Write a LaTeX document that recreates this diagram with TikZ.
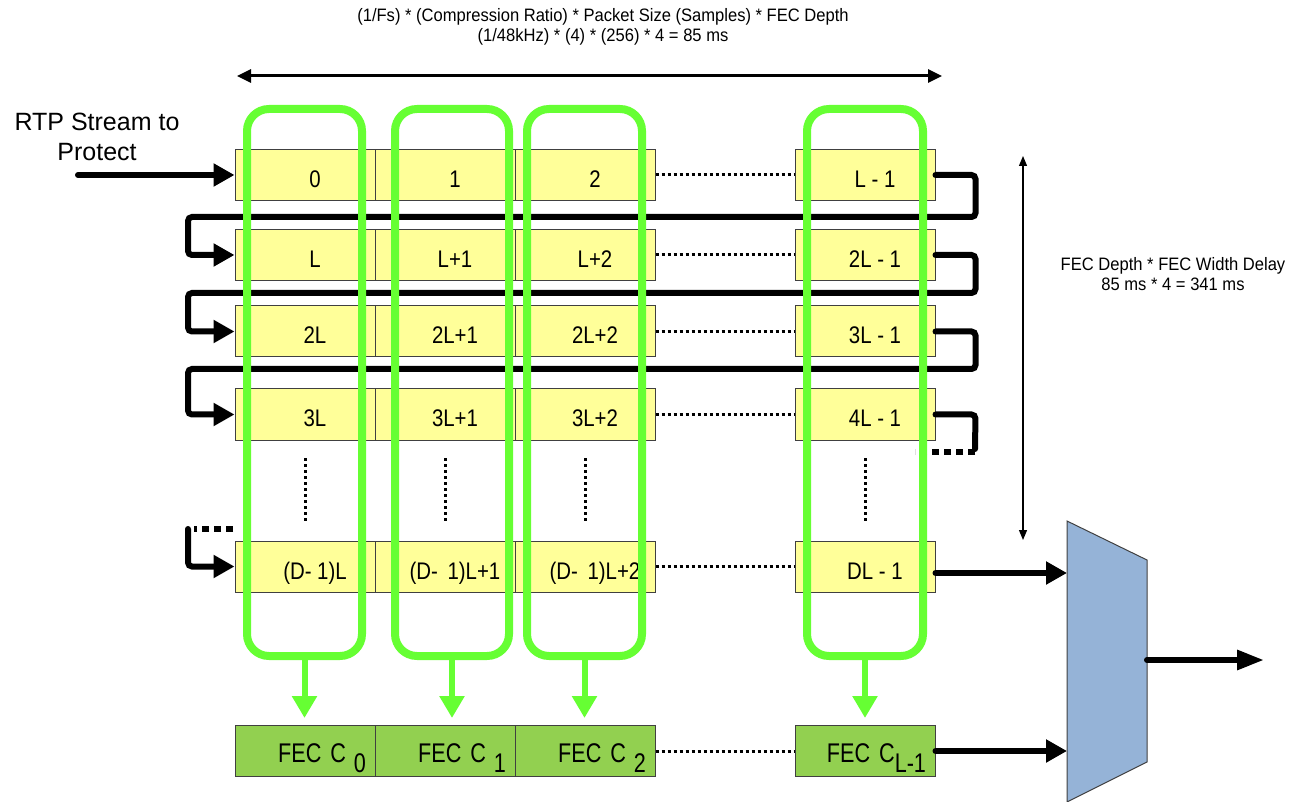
\documentclass[tikz,border=0pt]{standalone}
\usepackage{fontspec}
\setmainfont{Liberation Sans}
\newfontfamily\boxsans[FakeStretch=0.85]{Liberation Sans}
\newfontfamily\fecsans[FakeStretch=0.8]{Liberation Sans}
\newfontfamily\notesans[FakeStretch=0.92]{Liberation Sans}
\usetikzlibrary{arrows.meta}
\definecolor{pktyellow}{HTML}{FFFF99}
\definecolor{grpgreen}{HTML}{66FF33}
\definecolor{fecgreen}{HTML}{92D050}
\definecolor{muxblue}{HTML}{95B3D7}
\definecolor{edgegray}{HTML}{404040}
\begin{document}
\begin{tikzpicture}[x=1pt, y=-1pt,
  pkt/.style={draw=edgegray, line width=1pt, fill=pktyellow, minimum width=140pt, minimum height=51pt, inner sep=0pt,
    font={\boxsans\fontsize{24}{28}\selectfont}, text height=25pt, text depth=0pt, execute at begin node=\hspace*{20pt}},
  fec/.style={draw=edgegray, line width=1pt, fill=fecgreen, minimum width=140pt, minimum height=51pt, inner sep=0pt,
    font={\fecsans\fontsize{27}{32}\selectfont}, text width=122pt, align=right, text height=22pt, text depth=0pt},
  grp/.style={draw=grpgreen, line width=8pt, rounded corners=22pt, inner sep=0pt, minimum height=547pt},
  loopline/.style={line width=6pt, rounded corners=4pt, line cap=round},
  bigarrow/.style={line width=6pt, line cap=round, -{Triangle[length=21pt,width=22pt]}},
  grparrow/.style={draw=grpgreen, line width=6pt, -{Triangle[length=22pt,width=24pt]}, shorten >=7pt},
  thickdots/.style={line width=6pt, dash pattern=on 7pt off 5pt},
  thindots/.style={line width=3pt, dash pattern=on 3pt off 3pt}]
\useasboundingbox (0,0) rectangle (1294,802);

% packet rows
\node[pkt] (r1a) at (305,175) {0};
\node[pkt] (r1b) at (445,175) {1};
\node[pkt] (r1c) at (585,175) {2};
\node[pkt] (r1d) at (865,175) {L - 1};
\node[pkt] (r2a) at (305,255) {L};
\node[pkt] (r2b) at (445,255) {L+1};
\node[pkt] (r2c) at (585,255) {L+2};
\node[pkt] (r2d) at (865,255) {2L - 1};
\node[pkt] (r3a) at (305,331.5) {2L};
\node[pkt] (r3b) at (445,331.5) {2L+1};
\node[pkt] (r3c) at (585,331.5) {2L+2};
\node[pkt] (r3d) at (865,331.5) {3L - 1};
\node[pkt] (r4a) at (305,414.5) {3L};
\node[pkt] (r4b) at (445,414.5) {3L+1};
\node[pkt] (r4c) at (585,414.5) {3L+2};
\node[pkt] (r4d) at (865,414.5) {4L - 1};
\node[pkt] (r5a) at (305,566.5) {(D- 1)L};
\node[pkt] (r5b) at (445,566.5) {(D- \,1)L+1};
\node[pkt] (r5c) at (585,566.5) {(D- \,1)L+2};
\node[pkt] (r5d) at (865,566.5) {DL - 1};

% parity packets
\node[fec] (feca) at (305,751) {FEC C\hspace{8pt}\raisebox{-10pt}{0}};
\node[fec] (fecb) at (445,751) {FEC C\hspace{8pt}\raisebox{-10pt}{1}};
\node[fec] (fecc) at (585,751) {FEC C\hspace{8pt}\raisebox{-10pt}{2}};
\node[fec] (fecd) at (865,751) {FEC C\raisebox{-10pt}{L-1}};

% gaps
\draw[thindots] (r1c.east) -- (r1d.west);
\draw[thindots] (r2c.east) -- (r2d.west);
\draw[thindots] (r3c.east) -- (r3d.west);
\draw[thindots] (r4c.east) -- (r4d.west);
\draw[thindots] (r5c.east) -- (r5d.west);
\draw[thindots] (fecc.east) -- (fecd.west);
\draw[thindots] (305,458) -- (305,521);
\draw[thindots] (445,458) -- (445,521);
\draw[thindots] (585,458) -- (585,521);
\draw[thindots] (865,458) -- (865,521);

% row order
\node[font=\fontsize{25}{30}\selectfont, align=center] (input) at (97,137) {RTP Stream to\\Protect};
\coordinate (src) at (78,175);
\draw[bigarrow] (src) -- (r1a.west);
\draw[loopline, -{Triangle[length=21pt,width=22pt]}] (r1d.east) -- ++(40,0) |- (188,217) |- (r2a.west);
\draw[loopline, -{Triangle[length=21pt,width=22pt]}] (r2d.east) -- ++(40,0) |- (188,293) |- (r3a.west);
\draw[loopline, -{Triangle[length=21pt,width=22pt]}] (r3d.east) -- ++(40,0) |- (188,369) |- (r4a.west);
\draw[loopline] (r4d.east) -- ++(40,0) -- (975,449);
\draw[thickdots] (975,452) -- (915,452);
\draw[thickdots] (233,529) -- (194,529);
\draw[loopline, -{Triangle[length=21pt,width=22pt]}] (188,529) |- (r5a.west);

% parity groups
\node[grp, minimum width=115pt] (grpa) at (304.5,382.5) {};
\node[grp, minimum width=114pt] (grpb) at (452,382.5) {};
\node[grp, minimum width=115pt] (grpc) at (584.5,382.5) {};
\node[grp, minimum width=116pt] (grpd) at (865,382.5) {};
\draw[grparrow] (grpa.south) -- (grpa.south |- feca.north);
\draw[grparrow] (grpb.south) -- (grpb.south |- fecb.north);
\draw[grparrow] (grpc.south) -- (grpc.south |- fecc.north);
\draw[grparrow] (grpd.south) -- (grpd.south |- fecd.north);

% span and delay
\coordinate (spanl) at (237,76);
\coordinate (spanr) at (942,76);
\draw[line width=3pt, {Triangle[length=14pt,width=13pt]}-{Triangle[length=14pt,width=13pt]}] (spanl) -- (spanr);
\node[font={\notesans\fontsize{18}{20}\selectfont}, align=center] (spantext) at (603,27) {(1/Fs) * (Compression Ratio) * Packet Size (Samples) * FEC Depth\\(1/48kHz) * (4) * (256) * 4 = 85 ms};
\coordinate (delayt) at (1023,156);
\coordinate (delayb) at (1023,540);
\draw[line width=1.2pt, {Triangle[length=10pt,width=8pt]}-{Triangle[length=10pt,width=8pt]}] (delayt) -- (delayb);
\node[font={\notesans\fontsize{18}{20}\selectfont}, align=center] (delaytext) at (1173,274) {FEC Depth * FEC Width Delay\\85 ms * 4 = 341 ms};

% mux
\draw[draw=edgegray, fill=muxblue, line width=1pt] (1067,521) -- (1147,560) -- (1147,762) -- (1067,802) -- cycle;
\coordinate (muxin1) at (1067,573);
\coordinate (muxin2) at (1067,751);
\coordinate (muxout) at (1147,660);
\coordinate (out) at (1264,660);
\draw[bigarrow] (r5d.east |- muxin1) -- (muxin1);
\draw[bigarrow] (fecd.east) -- (muxin2);
\draw[line width=6pt, line cap=round, -{Triangle[length=27pt,width=19pt]}] (muxout) -- (out);
\end{tikzpicture}
\end{document}
